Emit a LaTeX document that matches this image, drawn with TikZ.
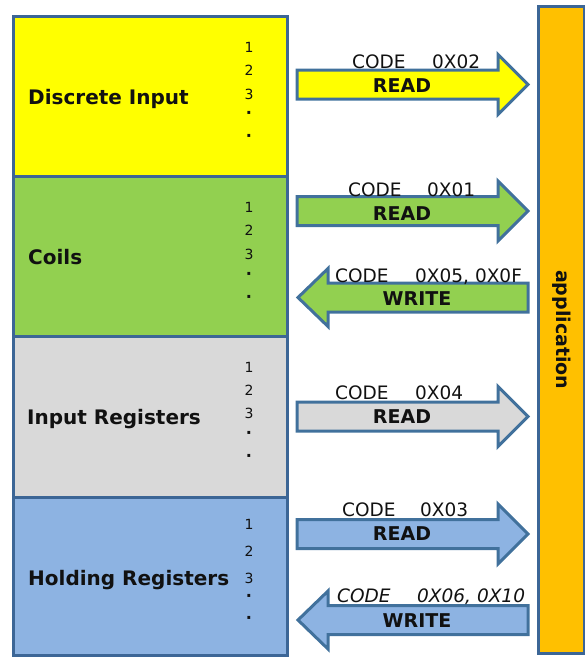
\documentclass[tikz,border=0pt]{standalone}
\usepackage{fontspec}
\setmainfont{DejaVu Sans}
\definecolor{edge}{HTML}{3C6696}
\definecolor{arrowedge}{HTML}{41719C}
\definecolor{diYellow}{HTML}{FFFF00}
\definecolor{coGreen}{HTML}{92D050}
\definecolor{irGray}{HTML}{D9D9D9}
\definecolor{hrBlue}{HTML}{8DB3E2}
\definecolor{appOrange}{HTML}{FFC000}
\definecolor{ink}{HTML}{111111}

% arrow pointing right towards the application, centred at height #2
\newcommand\ToApp[2]{%
  \draw[arrowbody, fill=#1] (297,{#2-14.5}) -- (498,{#2-14.5}) -- (498,{#2-30})
    -- (528,#2) -- (498,{#2+30}) -- (498,{#2+14.5}) -- (297,{#2+14.5}) -- cycle;}
% arrow pointing left towards the tables, centred at height #2
\newcommand\FromApp[2]{%
  \draw[arrowbody, fill=#1] (528,{#2-14.5}) -- (328,{#2-14.5}) -- (328,{#2-29})
    -- (298,#2) -- (328,{#2+29}) -- (328,{#2+14.5}) -- (528,{#2+14.5}) -- cycle;}

\begin{document}
\begin{tikzpicture}[x=1pt, y=-1pt,
  regbox/.style={draw=edge, line width=2.5pt, anchor=north west,
    minimum width=274pt, inner sep=0pt},
  arrowbody/.style={draw=arrowedge, line width=3pt, line join=miter},
  tablabel/.style={anchor=base west, inner sep=0pt, text=ink,
    font=\bfseries\fontsize{20}{20}\selectfont},
  codetxt/.style={anchor=base west, inner sep=0pt, text=ink,
    font=\fontsize{18.5}{18.5}\selectfont},
  optxt/.style={anchor=base, inner sep=0pt, text=ink,
    font=\bfseries\fontsize{19}{19}\selectfont},
  idx/.style={inner sep=0pt, text=ink, font=\fontsize{14}{14}\selectfont},
  dotmark/.style={inner sep=0pt, text=ink, font=\bfseries\fontsize{16}{16}\selectfont},
]
\useasboundingbox (0,0) rectangle (585,657);

% data tables
\node[regbox, fill=diYellow, minimum height=160pt] (di) at (12,15) {};
\node[regbox, fill=coGreen,  minimum height=160pt] (co) at (12,175) {};
\node[regbox, fill=irGray,   minimum height=161pt] (ir) at (12,335) {};
\node[regbox, fill=hrBlue,   minimum height=158pt] (hr) at (12,496) {};

\node[tablabel] (diL) at (28,104) {Discrete Input};
\node[tablabel] (coL) at (28,264) {Coils};
\node[tablabel] (irL) at (27,424) {Input Registers};
\node[tablabel] (hrL) at (28,585) {Holding Registers};

% element indices
\foreach \t/\a/\b/\c/\d/\e in {di/47/70/94/115/138, co/207/230/254/276/299,
                               ir/367/390/413/435/458, hr/524/551/578/598/620}{
  \node[idx] (\t1) at (249,\a) {1};
  \node[idx] (\t2) at (249,\b) {2};
  \node[idx] (\t3) at (249,\c) {3};
  \node[dotmark] (\t4) at (249,\d) {·};
  \node[dotmark] (\t5) at (249,\e) {·};
}

% application block
\node[draw=edge, line width=2.5pt, fill=appOrange, anchor=north west,
  minimum width=46pt, minimum height=647pt, inner sep=0pt] (app) at (537,5) {};
\node[rotate=-90, text=ink, font=\bfseries\fontsize{19}{19}\selectfont]
  (appL) at (app.center) {application};

% function codes
\ToApp{diYellow}{84.5}
\node[codetxt] (c02) at (352,68) {CODE};
\node[codetxt] (h02) at (432,68) {0X02};
\node[optxt] (r02) at (402,92) {READ};

\ToApp{coGreen}{211}
\node[codetxt] (c01) at (348,196) {CODE};
\node[codetxt] (h01) at (427,196) {0X01};
\node[optxt] (r01) at (402,220) {READ};

\FromApp{coGreen}{297.5}
\node[codetxt] (c05) at (335,282) {CODE};
\node[codetxt] (h05) at (415,282) {0X05,\hspace{6pt}0X0F};
\node[optxt] (w05) at (417,305) {WRITE};

\ToApp{irGray}{416.5}
\node[codetxt] (c04) at (335,399) {CODE};
\node[codetxt] (h04) at (415,399) {0X04};
\node[optxt] (r04) at (402,423) {READ};

\ToApp{hrBlue}{534}
\node[codetxt] (c03) at (342,516) {CODE};
\node[codetxt] (h03) at (420,516) {0X03};
\node[optxt] (r03) at (402,540) {READ};

\FromApp{hrBlue}{620}
\node[codetxt, font=\itshape\fontsize{18.5}{18.5}\selectfont] (c06) at (337,602) {CODE};
\node[codetxt, font=\itshape\fontsize{18.5}{18.5}\selectfont] (h06) at (417,602) {0X06,\hspace{6pt}0X10};
\node[optxt] (w06) at (417,627) {WRITE};
\end{tikzpicture}
\end{document}
